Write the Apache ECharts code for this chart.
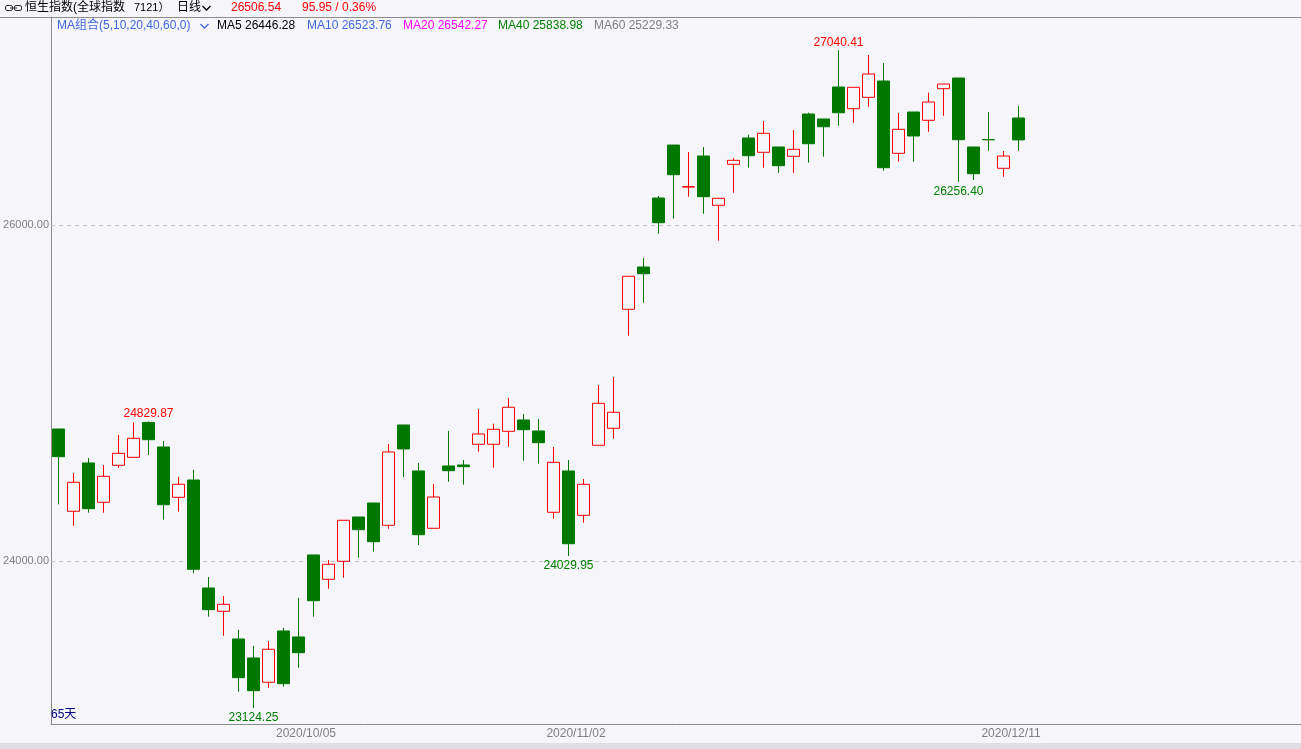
<!DOCTYPE html>
<html><head><meta charset="utf-8">
<script src="https://cdn.jsdelivr.net/npm/echarts@6.0.0/dist/echarts.min.js"></script>
<style>html,body{margin:0;padding:0;background:#f5f5fa;}#c{width:1301px;height:749px;}</style>
</head><body><div id="c"></div>
<script>
// ---- data ----
const openPrices = [24785.7,24296.0,24583.4,24349.5,24569.7,24617.3,24825.0,24678.7,24379.3,24482.2,
  23839.4,23700.7,23536.0,23422.8,23278.1,23583.5,23547.8,24036.0,23891.2,23998.3,
  24262.0,24345.3,24212.6,24809.6,24536.0,24194.7,24565.6,24571.5,24694.7,24694.7,
  24772.0,24839.4,24774.0,24290.0,24536.0,24272.0,24688.8,24790.0,25498.2,25750.0,
  26160.7,26476.0,26226.0,26410.7,26117.3,26361.3,26517.8,26432.7,26464.3,26408.9,
  26660.7,26631.0,26821.4,26692.2,26760.0,26857.0,26426.8,26672.6,26623.2,26811.3,
  26875.0,26464.3,26509.0,26337.5,26636.9];
const closePrices = [24621.0,24468.5,24311.4,24504.3,24641.0,24730.4,24722.0,24335.2,24456.6,23950.7,
  23710.3,23742.4,23305.5,23228.1,23474.6,23269.8,23454.3,23763.8,23980.5,24242.4,
  24186.4,24115.0,24649.0,24667.0,24156.6,24381.0,24537.6,24561.5,24756.0,24784.0,
  24915.0,24781.6,24704.2,24587.6,24103.0,24456.6,24938.7,24885.2,25694.7,25710.0,
  26013.7,26299.4,26228.0,26168.4,26158.9,26385.0,26412.5,26545.8,26353.0,26450.6,
  26483.9,26585.0,26668.4,26819.6,26898.8,26341.0,26569.6,26529.7,26732.0,26839.2,
  26507.7,26305.3,26507.0,26410.59,26506.54];
const lowPrices = [24337.5,24210.0,24287.6,24287.6,24555.4,24617.3,24631.0,24246.0,24293.6,23927.0,
  23668.6,23555.5,23222.2,23124.25,23246.0,23252.0,23365.0,23668.6,23835.3,23900.7,
  24019.8,24055.4,24192.4,24500.0,24095.4,24194.7,24472.0,24454.3,24650.7,24555.4,
  24680.4,24597.0,24579.2,24252.0,24029.95,24228.0,24688.8,24728.0,25341.0,25537.5,
  25948.2,26037.5,26168.4,26067.3,25906.6,26192.2,26341.0,26341.0,26311.3,26311.3,
  26370.8,26406.5,26591.0,26608.9,26704.1,26323.2,26376.8,26376.8,26555.3,26650.6,
  26256.40,26267.8,26442.2,26287.5,26442.2];
const highPrices = [24785.7,24524.0,24613.0,24571.5,24750.0,24825.7,24829.87,24714.4,24500.0,24542.0,
  23905.0,23791.8,23589.4,23494.2,23524.0,23601.3,23780.0,24036.0,24006.0,24242.4,
  24262.0,24345.3,24696.5,24809.6,24583.0,24458.4,24774.0,24601.3,24905.0,24817.3,
  24970.3,24875.0,24845.3,24678.7,24601.3,24488.0,25047.7,25095.3,25694.7,25803.6,
  26172.6,26476.0,26434.5,26464.3,26158.9,26398.8,26537.5,26619.0,26464.3,26565.4,
  26668.4,26631.0,27040.41,26819.6,27011.8,26964.2,26666.6,26672.6,26787.5,26839.2,
  26875.0,26464.3,26672.6,26440.4,26708.3];
const dateLabels = {17: '2020/10/05', 35: '2020/11/02', 64: '2020/12/11'};
const cursorTickIndex = 64;
const priceLines = [24000, 26000];
const extremes = [
  {i: 6, type: 'high'}, {i: 13, type: 'low'}, {i: 34, type: 'low'},
  {i: 52, type: 'high'}, {i: 60, type: 'low'}
];
const headerTitle = '恒生指数(全球指数';
const headerCode = '7121）';
const headerPeriod = '日线';
const lastPrice = '26506.54';
const priceChange = '95.95 / 0.36%';
const maTitle = 'MA组合(5,10,20,40,60,0)';
const maItems = [
  {name: 'MA5', value: '26446.28'},
  {name: 'MA10', value: '26523.76'},
  {name: 'MA20', value: '26542.27'},
  {name: 'MA40', value: '25838.98'},
  {name: 'MA60', value: '25229.33'}
];
const dayCountLabel = '65天';
const blankSlots = 19;

// ---- build ----
const BG = '#f5f5fa';
const UP = '#ff0000', DOWN = '#007800';
const FONT = '"Liberation Sans","Noto Sans CJK SC",sans-serif';
const n = openPrices.length;
const categories = [];
for (let i = 0; i < n + blankSlots; i++) categories.push('c' + i);
const kData = openPrices.map((o, i) => [o, closePrices[i], lowPrices[i], highPrices[i]]);

const maColors = ['#000000', '#4169e1', '#ff00ff', '#008000', '#808080'];
const maX = [217, 307, 403, 498, 594];

function txt(text, x, y, fill, size, extra) {
  return Object.assign({type: 'text', silent: true, z: 100,
    style: {text: text, x: x, y: y, fill: fill, font: (size || 12) + 'px ' + FONT, verticalAlign: 'middle', align: 'left'}}, extra || {});
}
const graphics = [
  {type: 'rect', silent: true, shape: {x: 0, y: 743, width: 1301, height: 6}, style: {fill: '#dedee4'}},
  {type: 'line', silent: true, shape: {x1: 0, y1: 17.5, x2: 1301, y2: 17.5}, style: {stroke: '#8c8c8c', lineWidth: 1}},
  // link icon
  {type: 'rect', silent: true, shape: {x: 5.5, y: 5.5, width: 7, height: 5, r: 1.5}, style: {fill: 'none', stroke: '#333', lineWidth: 1}},
  {type: 'rect', silent: true, shape: {x: 14.5, y: 5.5, width: 7, height: 5, r: 1.5}, style: {fill: 'none', stroke: '#333', lineWidth: 1}},
  {type: 'line', silent: true, shape: {x1: 10, y1: 8, x2: 17, y2: 8}, style: {stroke: '#333', lineWidth: 1}},
  txt(headerTitle, 25, 8, '#000'),
  txt(headerCode, 134, 8, '#000', 11),
  txt(headerPeriod, 177, 8, '#000'),
  {type: 'polyline', silent: true, shape: {points: [[202.5, 6], [206.5, 10], [210.5, 6]]}, style: {stroke: '#000', lineWidth: 1.3, fill: 'none'}},
  txt(lastPrice, 231, 8, UP),
  txt(priceChange, 302, 8, UP),
  txt(maTitle, 57, 26, '#4169e1'),
  {type: 'polyline', silent: true, z: 100, shape: {points: [[200.5, 24], [204.5, 28], [208.5, 24]]}, style: {stroke: '#4169e1', lineWidth: 1.3, fill: 'none'}},
  txt(dayCountLabel, 51, 715, '#000080')
];
maItems.forEach((m, k) => graphics.push(txt(m.name + ' ' + m.value, maX[k], 26, maColors[k])));

const markPoints = extremes.map(e => {
  const isHigh = e.type === 'high';
  const v = isHigh ? highPrices[e.i] : lowPrices[e.i];
  return {
    coord: [e.i, v], value: v,
    label: {show: true, position: isHigh ? 'top' : 'bottom', distance: isHigh ? 2 : 3.5,
      color: isHigh ? '#ff0000' : '#008000', fontSize: 12, fontFamily: FONT,
      formatter: v.toFixed(2)}
  };
});

const chart = echarts.init(document.getElementById('c'), null, {renderer: 'canvas'});
chart.setOption({
  backgroundColor: BG,
  animation: false,
  grid: {left: 51, top: 17, width: 15 * (n + blankSlots), height: 707, outerBoundsMode: 'none', containLabel: false},
  xAxis: {
    type: 'category', data: categories, boundaryGap: true,
    axisLine: {show: true, lineStyle: {color: '#8c8c8c', width: 1}},
    axisTick: {show: true, inside: true, length: 9, interval: idx => idx === cursorTickIndex, lineStyle: {color: '#8c8c8c'}},
    axisLabel: {show: true, interval: idx => dateLabels[idx] !== undefined, formatter: (v, idx) => dateLabels[idx] || '',
      color: '#808080', fontSize: 12, fontFamily: FONT, margin: 4, padding: [0, 15, 0, 0]},
    splitLine: {show: false}
  },
  yAxis: {
    type: 'value', min: 23029.8, max: 27238.1, scale: true,
    axisLine: {show: true, lineStyle: {color: '#8c8c8c', width: 1}},
    axisTick: {show: false}, axisLabel: {show: false}, splitLine: {show: false}
  },
  graphic: graphics,
  series: [{
    type: 'candlestick', data: kData, barWidth: 13,
    itemStyle: {color: BG, color0: DOWN, borderColor: UP, borderColor0: DOWN, borderWidth: 1},
    markLine: {
      silent: true, symbol: ['none', 'none'], z: 1,
      lineStyle: {color: '#c4c4c8', type: [4, 4], width: 1},
      label: {show: true, position: 'start', distance: 2, color: '#808080', fontSize: 11, fontFamily: FONT,
        formatter: p => Number(p.value).toFixed(2)},
      data: priceLines.map(v => ({yAxis: v}))
    },
    markPoint: {symbol: 'rect', symbolSize: 0, silent: true, data: markPoints}
  }]
});
</script></body></html>
